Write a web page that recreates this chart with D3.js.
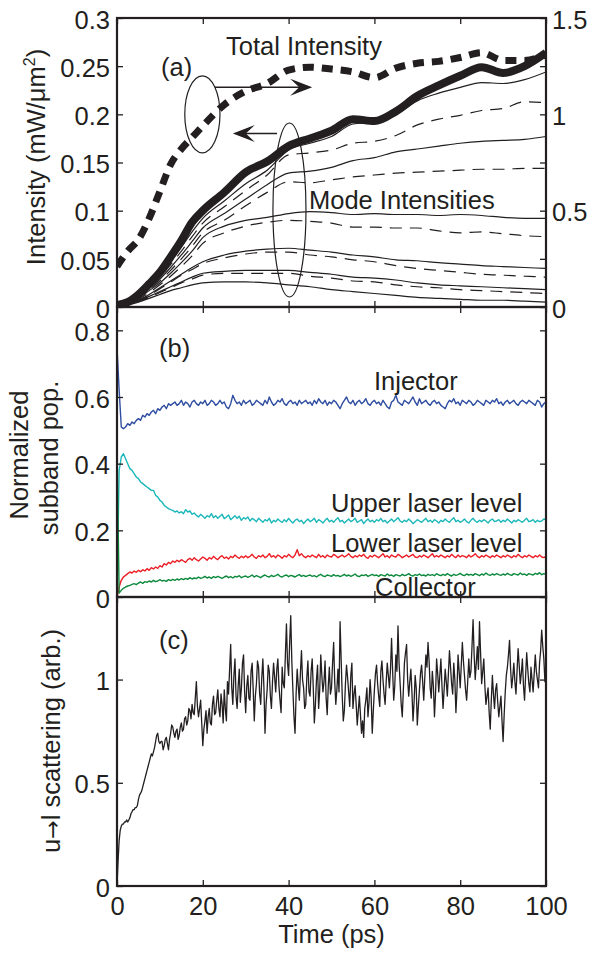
<!DOCTYPE html>
<html>
<head>
<meta charset="utf-8">
<script src="https://cdn.jsdelivr.net/npm/d3@7"></script>
<style>
  html, body { margin: 0; padding: 0; background: #fff; }
  svg text { font-family: "Liberation Sans", Arial, Helvetica, sans-serif; }
</style>
</head>
<body>
<svg id="chart" width="590" height="954"></svg>
<script>
// ---------- (a) intensities, sampled in ps ----------
const timeA = [0,2.5,5,7.5,10,12.5,15,17.5,20,25,30,35,40,45,50,55,60,65,70,75,80,85,90,95,100];
// summed mode intensity (left axis, mW/um^2)
const summedIntensity = [0.002,0.005,0.013,0.024,0.036,0.052,0.069,0.088,0.100,0.119,0.140,0.151,0.167,0.175,0.183,0.195,0.193,0.203,0.219,0.230,0.240,0.249,0.243,0.250,0.264];
// total intensity (right axis)
const totalIntensity = [0.21,0.29,0.35,0.46,0.60,0.74,0.82,0.88,0.94,1.05,1.12,1.16,1.23,1.245,1.235,1.22,1.19,1.24,1.265,1.275,1.295,1.32,1.28,1.28,1.31];
// individual mode intensities (left axis); odd modes solid, even modes dashed
const mode1  = [0.001,0.004,0.011,0.021,0.033,0.047,0.062,0.078,0.092,0.110,0.128,0.142,0.163,0.170,0.177,0.190,0.192,0.200,0.214,0.222,0.228,0.233,0.232,0.236,0.244];
const mode2  = [0.001,0.004,0.010,0.020,0.031,0.044,0.058,0.073,0.087,0.104,0.121,0.137,0.158,0.160,0.163,0.170,0.172,0.178,0.189,0.195,0.199,0.204,0.206,0.213,0.212];
const mode3  = [0.001,0.004,0.010,0.019,0.029,0.041,0.054,0.068,0.082,0.097,0.112,0.127,0.139,0.141,0.145,0.152,0.155,0.161,0.164,0.167,0.170,0.172,0.173,0.174,0.177];
const mode4  = [0.001,0.004,0.009,0.018,0.027,0.038,0.050,0.063,0.077,0.090,0.105,0.119,0.130,0.129,0.132,0.135,0.137,0.139,0.140,0.141,0.142,0.143,0.143,0.144,0.144];
const mode5  = [0.001,0.004,0.009,0.017,0.025,0.035,0.046,0.058,0.072,0.084,0.090,0.093,0.097,0.099,0.098,0.096,0.097,0.096,0.096,0.095,0.096,0.095,0.093,0.092,0.092];
const mode6  = [0.001,0.003,0.008,0.015,0.023,0.032,0.042,0.053,0.066,0.077,0.084,0.088,0.090,0.089,0.087,0.083,0.083,0.082,0.082,0.079,0.077,0.078,0.076,0.074,0.073];
const mode7  = [0.001,0.003,0.007,0.013,0.020,0.027,0.034,0.041,0.047,0.054,0.058,0.060,0.061,0.059,0.057,0.054,0.052,0.049,0.048,0.046,0.0445,0.043,0.042,0.041,0.040];
const mode8  = [0.001,0.003,0.007,0.012,0.019,0.026,0.033,0.039,0.045,0.051,0.055,0.057,0.057,0.054,0.052,0.049,0.047,0.043,0.040,0.038,0.036,0.034,0.033,0.032,0.031];
const mode9  = [0.001,0.003,0.006,0.011,0.016,0.021,0.026,0.031,0.035,0.037,0.038,0.038,0.038,0.036,0.034,0.031,0.030,0.028,0.025,0.023,0.022,0.021,0.020,0.019,0.018];
const mode10 = [0.001,0.003,0.006,0.010,0.015,0.020,0.025,0.029,0.033,0.035,0.035,0.035,0.035,0.032,0.030,0.027,0.026,0.023,0.021,0.020,0.018,0.017,0.016,0.015,0.014];
const mode11 = [0.001,0.002,0.005,0.009,0.013,0.017,0.020,0.023,0.025,0.026,0.026,0.025,0.023,0.021,0.018,0.016,0.014,0.012,0.010,0.009,0.008,0.007,0.007,0.006,0.005];
const modes = [mode1,mode2,mode3,mode4,mode5,mode6,mode7,mode8,mode9,mode10,mode11];

// ---------- (b) normalized subband populations, one sample every 0.5 ps ----------
const stepB = 0.5;
const injector = [
0.75,0.62,0.51,0.505,0.51,0.52,0.515,0.525,0.52,0.53,0.535,0.53,0.545,0.54,0.55,0.545,0.555,0.56,0.55,0.565,0.56,0.57,0.575,0.565,0.58,0.575,0.58,0.585,0.575,0.58,
0.59,0.575,0.585,0.58,0.57,0.585,0.59,0.58,0.575,0.585,0.58,0.59,0.575,0.58,0.59,0.585,0.575,0.58,0.59,0.58,0.585,0.57,0.565,0.58,0.605,0.59,0.58,0.585,0.575,0.59,
0.58,0.585,0.59,0.575,0.58,0.59,0.585,0.58,0.575,0.59,0.58,0.6,0.585,0.575,0.58,0.59,0.585,0.595,0.58,0.575,0.585,0.59,0.58,0.585,0.575,0.59,0.58,0.585,0.59,0.58,
0.585,0.575,0.59,0.58,0.595,0.585,0.58,0.59,0.575,0.585,0.58,0.59,0.585,0.575,0.565,0.58,0.59,0.6,0.585,0.58,0.59,0.575,0.585,0.59,0.58,0.585,0.595,0.58,0.575,0.585,
0.59,0.58,0.585,0.575,0.59,0.58,0.57,0.565,0.585,0.59,0.605,0.585,0.58,0.575,0.59,0.585,0.58,0.59,0.6,0.585,0.575,0.595,0.58,0.585,0.59,0.58,0.575,0.585,0.59,0.58,
0.585,0.575,0.57,0.565,0.58,0.59,0.585,0.595,0.58,0.585,0.575,0.59,0.585,0.58,0.59,0.585,0.575,0.58,0.59,0.585,0.58,0.575,0.59,0.585,0.58,0.59,0.585,0.595,0.58,0.585,
0.575,0.585,0.59,0.58,0.585,0.59,0.58,0.575,0.585,0.59,0.585,0.58,0.59,0.585,0.58,0.575,0.59,0.585,0.57,0.58,0.585];
const upperLevel = [
0.0,0.38,0.42,0.43,0.415,0.40,0.385,0.38,0.37,0.36,0.355,0.345,0.34,0.335,0.33,0.325,0.32,0.32,0.305,0.30,0.29,0.285,0.275,0.27,0.265,0.262,0.26,0.255,0.258,0.252,
0.256,0.25,0.262,0.255,0.258,0.248,0.252,0.245,0.24,0.248,0.242,0.236,0.244,0.24,0.25,0.238,0.244,0.236,0.242,0.248,0.235,0.24,0.246,0.232,0.238,0.244,0.236,0.242,0.23,0.238,
0.234,0.24,0.228,0.236,0.232,0.226,0.236,0.23,0.224,0.232,0.228,0.236,0.222,0.23,0.226,0.234,0.228,0.224,0.232,0.226,0.236,0.228,0.222,0.23,0.234,0.226,0.23,0.22,0.228,0.234,
0.226,0.23,0.236,0.224,0.232,0.228,0.222,0.23,0.236,0.226,0.23,0.224,0.232,0.238,0.226,0.23,0.222,0.228,0.234,0.226,0.23,0.236,0.224,0.228,0.232,0.22,0.228,0.234,0.226,0.23,
0.224,0.232,0.228,0.236,0.226,0.23,0.222,0.228,0.234,0.226,0.232,0.238,0.228,0.224,0.23,0.226,0.234,0.228,0.22,0.226,0.232,0.228,0.224,0.23,0.236,0.226,0.23,0.224,0.232,0.228,
0.222,0.23,0.226,0.234,0.228,0.224,0.232,0.238,0.226,0.23,0.224,0.228,0.234,0.226,0.222,0.23,0.236,0.228,0.224,0.23,0.226,0.232,0.228,0.222,0.23,0.234,0.226,0.228,0.232,0.224,
0.23,0.226,0.234,0.228,0.222,0.23,0.226,0.232,0.228,0.224,0.23,0.236,0.226,0.228,0.232,0.224,0.23,0.226,0.228,0.234,0.232];
const lowerLevel = [
0,0.03,0.05,0.06,0.065,0.07,0.075,0.072,0.078,0.074,0.08,0.076,0.082,0.078,0.085,0.08,0.088,0.084,0.09,0.086,0.094,0.09,0.1,0.096,0.104,0.1,0.108,0.104,0.11,0.106,
0.112,0.108,0.104,0.112,0.116,0.11,0.118,0.112,0.108,0.114,0.12,0.116,0.11,0.118,0.114,0.122,0.116,0.112,0.12,0.124,0.116,0.12,0.114,0.122,0.118,0.126,0.12,0.116,0.122,0.118,
0.124,0.118,0.122,0.128,0.12,0.116,0.124,0.12,0.126,0.118,0.122,0.13,0.12,0.124,0.118,0.126,0.122,0.116,0.124,0.12,0.128,0.122,0.118,0.126,0.142,0.124,0.13,0.122,0.118,0.124,
0.12,0.126,0.122,0.118,0.128,0.12,0.124,0.118,0.126,0.122,0.12,0.128,0.124,0.118,0.122,0.126,0.12,0.124,0.13,0.122,0.118,0.124,0.12,0.126,0.122,0.128,0.12,0.116,0.124,0.12,
0.126,0.122,0.118,0.124,0.13,0.12,0.124,0.118,0.126,0.122,0.12,0.128,0.124,0.118,0.122,0.126,0.12,0.124,0.128,0.12,0.118,0.124,0.12,0.126,0.122,0.118,0.124,0.13,0.12,0.124,
0.12,0.126,0.122,0.118,0.124,0.12,0.128,0.122,0.118,0.126,0.12,0.124,0.122,0.118,0.126,0.12,0.124,0.13,0.122,0.118,0.124,0.12,0.126,0.122,0.118,0.124,0.12,0.126,0.122,0.118,
0.124,0.12,0.126,0.122,0.118,0.124,0.12,0.128,0.122,0.118,0.124,0.12,0.126,0.122,0.118,0.124,0.12,0.126,0.12,0.118,0.122];
const collector = [
0.45,0.012,0.02,0.026,0.03,0.033,0.035,0.038,0.04,0.037,0.042,0.045,0.041,0.046,0.044,0.048,0.045,0.05,0.046,0.048,0.052,0.048,0.05,0.047,0.052,0.049,0.053,0.05,0.054,0.051,
0.055,0.052,0.056,0.053,0.058,0.054,0.057,0.055,0.06,0.056,0.058,0.062,0.057,0.06,0.056,0.061,0.058,0.062,0.059,0.056,0.06,0.063,0.058,0.061,0.057,0.062,0.06,0.064,0.058,0.061,
0.063,0.059,0.062,0.066,0.06,0.064,0.061,0.058,0.063,0.066,0.062,0.06,0.065,0.061,0.064,0.068,0.062,0.06,0.064,0.066,0.061,0.065,0.063,0.06,0.064,0.067,0.062,0.065,0.061,0.064,
0.066,0.062,0.064,0.06,0.065,0.068,0.063,0.061,0.066,0.064,0.062,0.067,0.063,0.065,0.061,0.064,0.068,0.063,0.066,0.062,0.065,0.069,0.063,0.061,0.066,0.064,0.067,0.062,0.065,0.068,
0.064,0.066,0.062,0.067,0.065,0.063,0.069,0.064,0.066,0.062,0.067,0.065,0.063,0.068,0.064,0.066,0.07,0.065,0.063,0.067,0.065,0.069,0.064,0.066,0.063,0.068,0.065,0.067,0.064,0.07,
0.066,0.064,0.068,0.065,0.07,0.066,0.063,0.068,0.065,0.067,0.071,0.066,0.064,0.069,0.066,0.068,0.065,0.07,0.067,0.064,0.069,0.066,0.072,0.067,0.065,0.069,0.066,0.07,0.067,0.065,
0.069,0.066,0.071,0.067,0.065,0.07,0.068,0.066,0.072,0.067,0.069,0.065,0.07,0.068,0.066,0.071,0.068,0.073,0.067,0.07,0.068];

// ---------- (c) upper-to-lower scattering, one sample every 0.25 ps ----------
const stepC = 0.25;
const scattering = [
0,0.12,0.22,0.27,0.29,0.30,0.30,0.31,0.31,0.32,0.31,0.32,0.33,0.35,0.36,0.37,0.37,0.38,0.38,0.39,
0.42,0.44,0.45,0.46,0.48,0.50,0.52,0.54,0.56,0.58,0.60,0.62,0.64,0.63,0.65,0.67,0.70,0.73,0.74,0.70,
0.69,0.70,0.70,0.66,0.68,0.71,0.72,0.69,0.66,0.71,0.74,0.78,0.77,0.74,0.72,0.75,0.76,0.71,0.73,0.77,
0.79,0.75,0.76,0.81,0.82,0.78,0.80,0.86,0.85,0.81,0.88,0.84,0.83,0.91,0.99,0.87,0.82,0.86,0.90,0.79,
0.68,0.76,0.80,0.85,0.74,0.82,0.86,0.79,0.78,0.88,0.92,0.83,0.84,0.90,0.95,0.86,0.82,0.93,0.88,0.79,
0.95,0.86,0.80,0.99,0.93,1.05,1.17,0.96,0.88,1.02,1.10,0.92,0.86,0.97,1.05,0.89,0.96,1.08,1.12,0.94,
0.84,0.97,1.02,0.91,0.90,1.04,1.08,0.95,0.80,0.92,0.98,1.09,1.06,0.93,0.88,1.01,1.10,0.96,0.74,0.88,
0.95,1.07,1.04,0.92,0.86,0.99,1.08,1.01,0.94,1.05,1.10,0.97,0.90,0.84,1.06,0.98,0.96,1.12,1.27,1.08,
1.02,1.18,1.31,1.09,0.95,0.82,0.74,0.93,1.05,0.97,0.90,1.03,1.14,1.00,0.96,0.86,0.88,1.01,1.09,0.94,
0.92,1.04,1.10,0.96,0.79,0.88,1.00,1.07,0.86,0.95,1.12,1.02,0.94,0.99,1.09,0.91,0.83,0.97,1.06,0.93,
0.96,1.08,1.18,0.99,0.88,0.95,1.05,0.94,1.28,1.10,0.92,0.80,0.85,0.98,1.07,1.01,0.94,0.87,1.02,1.08,
0.86,0.93,0.97,0.88,0.78,0.85,0.92,0.83,0.74,0.80,0.72,0.86,0.90,0.96,0.82,0.89,1.00,0.91,0.74,0.85,
0.95,1.03,1.07,0.98,0.92,0.87,1.04,1.09,1.00,0.93,0.88,0.99,1.08,1.02,0.96,1.05,1.20,1.04,0.90,0.97,
1.12,1.04,1.26,1.08,0.98,0.88,0.82,0.95,1.08,1.13,1.17,1.00,0.92,0.99,1.05,0.94,0.80,0.89,1.02,0.96,
0.78,0.87,0.95,1.03,1.07,0.99,0.90,1.01,1.12,1.06,1.18,1.09,0.96,0.91,1.04,0.97,0.82,0.93,1.10,1.03,
0.94,1.02,1.10,0.97,0.86,0.95,1.05,0.99,0.92,1.03,1.14,1.06,0.98,0.93,1.08,1.00,0.84,0.95,1.12,1.04,
0.96,1.07,1.18,1.09,1.02,0.95,0.90,0.99,1.10,1.01,1.04,1.16,1.29,1.12,1.00,1.08,1.16,1.05,1.28,1.13,
0.98,1.04,1.10,0.97,0.88,0.92,0.96,0.84,0.76,0.90,1.02,0.93,0.86,0.95,0.98,0.89,0.82,0.87,0.92,0.80,
0.70,0.83,0.94,1.02,1.06,1.12,1.19,1.05,0.96,1.01,1.08,0.99,0.93,1.04,1.15,1.07,0.98,1.03,1.10,0.97,
0.90,1.02,1.13,1.05,0.98,0.94,1.06,1.00,0.94,1.03,1.12,1.04,1.00,0.96,1.08,1.14,1.24,1.16,1.10,0.99,
1.04];

// ---------- ticks ----------
const timeTicks = [0,20,40,60,80,100];
const timeTickLabels = ["0","20","40","60","80","100"];
const ticksA = [0,0.05,0.1,0.15,0.2,0.25,0.3];
const ticksALabels = ["0","0.05","0.1","0.15","0.2","0.25","0.3"];
const ticksA2 = [0,0.25,0.5,0.75,1,1.25,1.5];
const ticksA2Labels = ["0","","0.5","","1","","1.5"];
const ticksB = [0,0.2,0.4,0.6,0.8];
const ticksBLabels = ["0","0.2","0.4","0.6","0.8"];
const ticksC = [0,0.5,1];
const ticksCLabels = ["0","0.5","1"];

// ---------- drawing ----------
const ink = "#231f20";
const FS = 25.5;
const svg = d3.select("#chart");

const left = 117, right = 546;
const panels = [[18, 307], [307, 597], [597, 886]];

const x = d3.scaleLinear().domain([0, 100]).range([left, right]);
const yA  = d3.scaleLinear().domain([0, 0.3]).range([panels[0][1], panels[0][0]]);
const yA2 = d3.scaleLinear().domain([0, 1.5]).range([panels[0][1], panels[0][0]]);
const yB  = d3.scaleLinear().domain([0, 0.87]).range([panels[1][1], panels[1][0]]);
const yC  = d3.scaleLinear().domain([0, 1.4]).range([panels[2][1], panels[2][0]]);

const defs = svg.append("defs");
panels.forEach((p, i) => {
  defs.append("clipPath").attr("id", "clip" + i)
    .append("rect").attr("x", left).attr("y", p[0]).attr("width", right - left).attr("height", p[1] - p[0]);
});

function styleAxis(g) {
  g.attr("font-size", null).attr("font-family", null).attr("color", ink);
  g.select(".domain").remove();
  g.selectAll(".tick line").attr("stroke", ink).attr("stroke-width", 1.3);
  g.selectAll(".tick text").attr("font-size", FS).attr("fill", ink);
}

function labelFrom(values, labels) {
  return d => labels[values.indexOf(d)];
}

function frameAxes(i, yScale, yVals, yLabels, showX) {
  const [top, bottom] = panels[i];
  // x ticks on bottom and top edges, pointing inward
  const gb = svg.append("g").attr("transform", `translate(0,${bottom})`)
    .call(d3.axisBottom(x).tickValues(timeTicks).tickSize(-6).tickPadding(11)
      .tickFormat(showX ? labelFrom(timeTicks, timeTickLabels) : () => ""));
  styleAxis(gb);
  const gt = svg.append("g").attr("transform", `translate(0,${top})`)
    .call(d3.axisTop(x).tickValues(timeTicks).tickSize(-6).tickFormat(() => ""));
  styleAxis(gt);
  // labelled y ticks on the left
  const gl = svg.append("g").attr("transform", `translate(${left},0)`)
    .call(d3.axisLeft(yScale).tickValues(yVals).tickSize(-6).tickPadding(7)
      .tickFormat(labelFrom(yVals, yLabels)));
  styleAxis(gl);
  gl.selectAll(".tick text").attr("dy", "0.4em");
  // frame
  svg.append("rect").attr("x", left).attr("y", top).attr("width", right - left).attr("height", bottom - top)
    .attr("fill", "none").attr("stroke", ink).attr("stroke-width", 2.2);
}

// ----- panel (a) -----
const gA = svg.append("g").attr("clip-path", "url(#clip0)");
const lineA = d3.line().x((d, i) => x(timeA[i])).y(d => yA(d)).curve(d3.curveMonotoneX);
const lineA2 = d3.line().x((d, i) => x(timeA[i])).y(d => yA2(d)).curve(d3.curveMonotoneX);

modes.forEach((m, k) => {
  gA.append("path").datum(m).attr("d", lineA)
    .attr("fill", "none").attr("stroke", ink).attr("stroke-width", 1.2)
    .attr("stroke-dasharray", k % 2 === 1 ? "12,8" : null);
});
gA.append("path").datum(summedIntensity).attr("d", lineA)
  .attr("fill", "none").attr("stroke", ink).attr("stroke-width", 8)
  .attr("stroke-linejoin", "round");
gA.append("path").datum(totalIntensity).attr("d", lineA2)
  .attr("fill", "none").attr("stroke", ink).attr("stroke-width", 7)
  .attr("stroke-dasharray", "11,8");

frameAxes(0, yA, ticksA, ticksALabels, false);
// right axis of panel (a)
const gr = svg.append("g").attr("transform", `translate(${right},0)`)
  .call(d3.axisRight(yA2).tickValues(ticksA2).tickSize(-6).tickPadding(6)
    .tickFormat(labelFrom(ticksA2, ticksA2Labels)));
styleAxis(gr);
gr.selectAll(".tick text").attr("dy", "0.4em");

// annotations of panel (a)
const ann = svg.append("g").attr("fill", "none").attr("stroke", ink);
ann.append("ellipse").attr("cx", x(19.9)).attr("cy", yA2(1.0))
  .attr("rx", x(4.1) - x(0)).attr("ry", yA2(0) - yA2(0.2)).attr("stroke-width", 1.2);
ann.append("ellipse").attr("cx", x(40.2)).attr("cy", yA(0.1007))
  .attr("rx", x(3.85) - x(0)).attr("ry", yA(0) - yA(0.0903)).attr("stroke-width", 1.2);

function arrow(x1, y1, x2, y2) {
  const a = Math.atan2(y2 - y1, x2 - x1);
  const L = 22, Wd = 8.5, N = 9;
  const rot = ([u, v]) => [x2 + u * Math.cos(a) - v * Math.sin(a), y2 + u * Math.sin(a) + v * Math.cos(a)];
  ann.append("line").attr("x1", x1).attr("y1", y1)
    .attr("x2", rot([-N, 0])[0]).attr("y2", rot([-N, 0])[1]).attr("stroke-width", 1.5);
  const pts = [[0, 0], [-L, -Wd], [-L + N, 0], [-L, Wd]].map(rot);
  ann.append("path").attr("d", "M" + pts.map(p => p.join(",")).join("L") + "Z")
    .attr("fill", ink).attr("stroke", "none");
}
arrow(x(22.8), yA2(1.14), x(45.5), yA2(1.14));
arrow(x(37.3), yA(0.18), x(27), yA(0.18));

// ----- panel (b) -----
const gB = svg.append("g").attr("clip-path", "url(#clip1)");
const lineB = d3.line().x((d, i) => x(i * stepB)).y(d => yB(d));
[[injector, "#2f4ea1"], [upperLevel, "#1cb7b9"], [lowerLevel, "#ec1f26"], [collector, "#0e8a3e"]]
  .forEach(([s, c]) => {
    gB.append("path").datum(s).attr("d", lineB)
      .attr("fill", "none").attr("stroke", c).attr("stroke-width", 1.4).attr("stroke-linejoin", "round");
  });
frameAxes(1, yB, ticksB, ticksBLabels, false);
const grB = svg.append("g").attr("transform", `translate(${right},0)`)
  .call(d3.axisRight(yB).tickValues(ticksB).tickSize(-6).tickFormat(() => ""));
styleAxis(grB);

// ----- panel (c) -----
const gC = svg.append("g").attr("clip-path", "url(#clip2)");
const lineC = d3.line().x((d, i) => x(i * stepC)).y(d => yC(d));
gC.append("path").datum(scattering).attr("d", lineC)
  .attr("fill", "none").attr("stroke", ink).attr("stroke-width", 1.3).attr("stroke-linejoin", "round");
frameAxes(2, yC, ticksC, ticksCLabels, true);
const grC = svg.append("g").attr("transform", `translate(${right},0)`)
  .call(d3.axisRight(yC).tickValues(ticksC).tickSize(-6).tickFormat(() => ""));
styleAxis(grC);

// ----- text -----
const txt = svg.append("g").attr("fill", ink).attr("font-size", FS);
function label(s, tx, ty) { return txt.append("text").attr("x", tx).attr("y", ty).text(s); }
label("(a)", 161, 76);
label("Total Intensity", 226, 55);
label("Mode Intensities", 309, 209);
label("(b)", 159, 357);
label("Injector", 374, 390);
label("Upper laser level", 331, 512);
label("Lower laser level", 331, 552);
label("Collector", 375, 596);
label("(c)", 159, 649);

// axis titles
const ta = txt.append("text").attr("transform", "translate(45,157) rotate(-90)").attr("text-anchor", "middle");
ta.append("tspan").text("Intensity (mW/μm");
ta.append("tspan").attr("font-size", 16).attr("dy", -10).text("2");
ta.append("tspan").attr("dy", 10).text(")");
txt.append("text").attr("transform", "translate(28,455) rotate(-90)").attr("text-anchor", "middle").text("Normalized");
txt.append("text").attr("transform", "translate(58,458) rotate(-90)").attr("text-anchor", "middle").text("subband pop.");
const tc = txt.append("text").attr("transform", "translate(60,741) rotate(-90)").attr("text-anchor", "middle");
tc.append("tspan").text("u");
tc.append("tspan").attr("font-family", "DejaVu Sans").attr("font-size", 22).text("→");
tc.append("tspan").text("l scattering (arb.)");
txt.append("text").attr("x", x(50)).attr("y", 943).attr("text-anchor", "middle").text("Time (ps)");
</script>
</body>
</html>
